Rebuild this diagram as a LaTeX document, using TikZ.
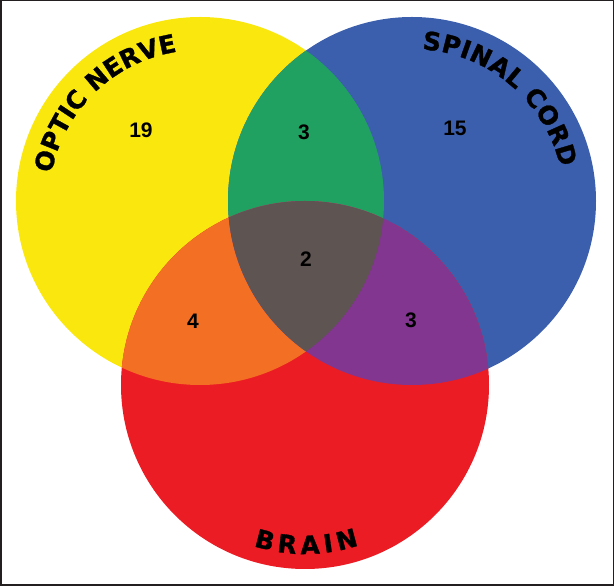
\documentclass[tikz,border=0pt]{standalone}
\usepackage{fontspec}
\setmainfont{Liberation Sans}
\newfontfamily\lblfont{DejaVu Sans}[BoldFeatures={FakeBold=1.2}]
\usetikzlibrary{decorations.text}
\definecolor{cyellow}{HTML}{F9E70E}
\definecolor{cblue}{HTML}{3B5FAD}
\definecolor{cred}{HTML}{EC1C24}
\definecolor{cgreen}{HTML}{21A161}
\definecolor{corange}{HTML}{F26F23}
\definecolor{cpurple}{HTML}{82368F}
\definecolor{cgray}{HTML}{5E5452}
\definecolor{cframe}{HTML}{231F20}
\begin{document}
\begin{tikzpicture}[x=1pt,y=1pt,
  num/.style={font=\fontsize{21}{21}\selectfont\bfseries, text=black, inner sep=0pt},
  lbl/.style={decorate, decoration={text along path, text align={fit to path},
     text={|\lblfont\bfseries\fontsize{25}{25}\selectfont|#1}}}]
\useasboundingbox (0,0) rectangle (614,586);
\coordinate (Y) at (200,385);
\coordinate (B) at (412,385);
\coordinate (R) at (305,201);
% base circles
\fill[cyellow] (Y) circle[radius=184pt];
\fill[cblue] (B) circle[radius=184pt];
\fill[cred] (R) circle[radius=184pt];
% pairwise overlaps
\begin{scope}
  \clip (Y) circle[radius=184pt];
  \fill[cgreen] (B) circle[radius=184pt];
  \fill[corange] (R) circle[radius=184pt];
\end{scope}
\begin{scope}
  \clip (B) circle[radius=184pt];
  \fill[cpurple] (R) circle[radius=184pt];
\end{scope}
\begin{scope}
  \clip (Y) circle[radius=184pt];
  \clip (B) circle[radius=184pt];
  \fill[cgray] (R) circle[radius=184pt];
\end{scope}
% curved labels
\path[lbl={OPTIC NERVE}] ([shift={(169.5:151pt)}]Y) arc[start angle=169.5, end angle=101, radius=151pt];
\path[lbl={SPINAL CORD}] ([shift={(86.2:152pt)}]B) arc[start angle=86.2, end angle=12.8, radius=152pt];
\path[lbl={BRAIN}] ([shift={(252.3:169pt)}]R) arc[start angle=252.3, end angle=288.6, radius=169pt];
% counts
\node[num] (n19) at (141,456) {19};
\node[num] (n3a) at (304,454) {3};
\node[num] (n15) at (455,458) {15};
\node[num] (n2) at (306,327) {2};
\node[num] (n4) at (193,265) {4};
\node[num] (n3b) at (411,266) {3};
% frame
\draw[cframe, line width=1.5pt] (0.75,0.75) rectangle (613.25,585.25);
\end{tikzpicture}
\end{document}
